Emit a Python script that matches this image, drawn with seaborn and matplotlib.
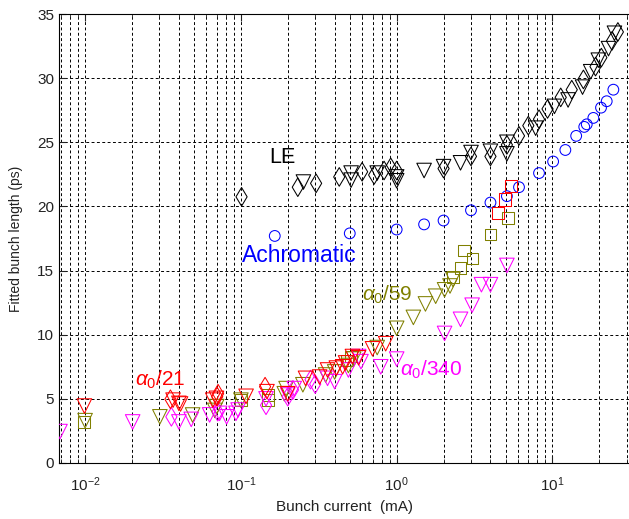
import numpy as np
import pandas as pd
import seaborn as sns
import matplotlib.pyplot as plt
from matplotlib.ticker import LogLocator, NullFormatter

# --- valores ---
# LE
le_d_x = [0.101, 0.232, 0.304, 0.428, 0.60, 0.717, 0.83, 0.916, 1.0, 2.0, 3.0, 4.0, 5.1, 6.1, 7.0, 8.2, 9.3, 11.3, 13.3, 15.8, 18.9, 20.6, 24.1, 26.3]
le_d_y = [20.75, 21.5, 21.8, 22.3, 22.7, 22.45, 22.8, 23.05, 22.8, 22.95, 23.9, 23.9, 24.8, 25.5, 26.3, 26.8, 27.6, 28.5, 29.1, 29.9, 30.9, 31.6, 32.9, 33.6]
le_t_x = [0.252, 0.51, 0.51, 0.75, 1.0, 1.0, 1.5, 2.0, 2.57, 3.0, 4.0, 5.1, 5.1, 7.8, 10.3, 12.6, 15.6, 17.6, 19.7, 22.9, 25.0]
le_t_y = [21.9, 22.6, 22.05, 22.6, 22.3, 22.0, 22.8, 23.1, 23.4, 24.2, 24.3, 24.1, 25.0, 26.1, 27.8, 28.3, 29.3, 30.5, 31.4, 32.3, 33.5]

# Achromatic
ach_x = [0.165, 0.5, 1.0, 1.5, 2.0, 3.0, 4.0, 5.1, 6.1, 8.2, 10.1, 12.1, 14.2, 16.0, 16.6, 18.3, 20.5, 22.3, 24.6]
ach_y = [17.7, 17.9, 18.2, 18.6, 18.9, 19.7, 20.3, 20.8, 21.5, 22.6, 23.5, 24.4, 25.5, 26.2, 26.4, 26.9, 27.7, 28.2, 29.1]

# a0/21
r21_t_x = [0.0099, 0.0367, 0.040, 0.041, 0.066, 0.0697, 0.108, 0.147, 0.2, 0.26, 0.32, 0.36, 0.41, 0.45, 0.47, 0.52, 0.57, 0.70, 0.85]
r21_t_y = [4.44, 4.9, 4.65, 4.6, 4.9, 5.04, 5.2, 5.56, 5.4, 6.6, 6.7, 7.25, 7.4, 7.5, 7.8, 8.3, 8.2, 8.9, 9.3]
r21_d_x = [0.0353, 0.0705, 0.0714, 0.143]
r21_d_y = [4.97, 5.17, 5.4, 5.95]
r21_s_x = [4.47, 4.94, 5.42]
r21_s_y = [19.5, 20.55, 21.6]

# a0/59
o59_t_x = [0.01, 0.0302, 0.049, 0.068, 0.07, 0.1, 0.19, 0.195, 0.25, 0.35, 0.40, 0.49, 0.53, 0.75, 1.0, 1.28, 1.53, 1.78, 2.03, 2.2, 2.3]
o59_t_y = [3.3, 3.6, 3.74, 4.1, 4.4, 4.9, 5.4, 5.8, 6.1, 6.86, 7.1, 7.6, 8.1, 9.0, 10.5, 11.35, 12.4, 13.0, 13.5, 13.8, 14.3]
o59_s_x = [0.0098, 0.1, 0.149, 0.149, 0.48, 0.51, 2.3, 2.57, 2.7, 3.06, 4.0, 5.2]
o59_s_y = [3.2, 4.9, 5.3, 4.9, 8.0, 8.3, 14.5, 15.2, 16.55, 15.95, 17.8, 19.1]

# a0/340
m340_t_x = [0.0069, 0.0202, 0.040, 0.048, 0.063, 0.073, 0.081, 0.093, 0.096, 0.145, 0.2, 0.22, 0.36, 0.40, 0.49, 0.57, 0.59, 0.79, 1.0, 2.03, 2.57, 3.05, 3.5, 4.0, 5.1]
m340_t_y = [2.45, 3.2, 3.2, 3.4, 3.75, 3.87, 3.6, 3.87, 4.13, 5.0, 5.3, 5.8, 6.6, 6.34, 7.25, 8.3, 7.9, 7.5, 8.1, 10.1, 11.2, 12.3, 13.9, 13.9, 15.4]
m340_d_x = [0.0358, 0.071, 0.145, 0.2, 0.216, 0.28, 0.30]
m340_d_y = [3.6, 4.0, 4.5, 5.17, 5.7, 6.5, 6.15]

plt.rcParams['font.family'] = 'Liberation Sans'
plt.rcParams['mathtext.fontset'] = 'custom'
plt.rcParams['mathtext.rm'] = 'Liberation Sans'
plt.rcParams['mathtext.it'] = 'Liberation Sans:italic'

fig = plt.figure(figsize=(6.29, 5.19), dpi=100)
ax = fig.add_axes([59/629, 1-463/519, 1.0 - 59/629, (463-14)/519])

black = 'black'
blue = '#0000ff'
red = '#ff0000'
olive = '#808000'
mag = '#ff00ff'

series = [
    (le_d_x, le_d_y, 'd', black, 90),
    (le_t_x, le_t_y, 'v', black, 110),
    (ach_x, ach_y, 'o', blue, 60),
    (o59_t_x, o59_t_y, 'v', olive, 110),
    (o59_s_x, o59_s_y, 's', olive, 70),
    (m340_t_x, m340_t_y, 'v', mag, 110),
    (m340_d_x, m340_d_y, 'd', mag, 90),
    (r21_t_x, r21_t_y, 'v', red, 110),
    (r21_d_x, r21_d_y, 'd', red, 90),
    (r21_s_x, r21_s_y, 's', red, 80),
]
for xs, ys, mk, c, sz in series:
    df = pd.DataFrame({'x': xs, 'y': ys})
    sns.scatterplot(data=df, x='x', y='y', marker=mk, s=sz, color=c,
                    facecolor='none', edgecolor=c, linewidth=0.75, ax=ax, zorder=3)

ax.set_xscale('log')
ax.set_xlim(0.0068, 31)
ax.set_ylim(0, 35)
ax.set_yticks(range(0, 36, 5))
ax.xaxis.set_major_locator(LogLocator(base=10, numticks=10))
ax.xaxis.set_minor_locator(LogLocator(base=10, subs=np.arange(2, 10), numticks=50))
ax.xaxis.set_minor_formatter(NullFormatter())

grid_kw = dict(color='black', linestyle=(0, (3, 2.5)), linewidth=0.7)
ax.grid(True, which='major', axis='both', **grid_kw)
ax.grid(True, which='minor', axis='x', **grid_kw)
ax.set_axisbelow(True)

ax.tick_params(which='both', direction='in', top=True, labelsize=11, colors='#222222')
ax.tick_params(which='major', length=5)
ax.tick_params(which='minor', length=3)
ax.tick_params(axis='x', which='major', pad=9)
ax.spines['right'].set_visible(False)
for s in ['left', 'bottom', 'top']:
    ax.spines[s].set_linewidth(0.8)

ax.set_xlabel('Bunch current  (mA)', fontsize=11, color='#222222', labelpad=4)
ax.set_ylabel('Fitted bunch length (ps)', fontsize=10, color='#222222', labelpad=10)

ax.text(0.185, 23.8, 'LE', fontsize=15.5, color='black', ha='center', va='center')
ax.text(0.102, 16.2, 'Achromatic', fontsize=16.5, color=blue, ha='left', va='center')
ax.text(0.6, 13.1, r'$\alpha_0$/59', fontsize=15, color=olive, ha='left', va='center')
ax.text(1.05, 7.25, r'$\alpha_0$/340', fontsize=15, color=mag, ha='left', va='center')
ax.text(0.0209, 6.5, r'$\alpha_0$/21', fontsize=15, color=red, ha='left', va='center')

fig.savefig('out.png', dpi=100)
